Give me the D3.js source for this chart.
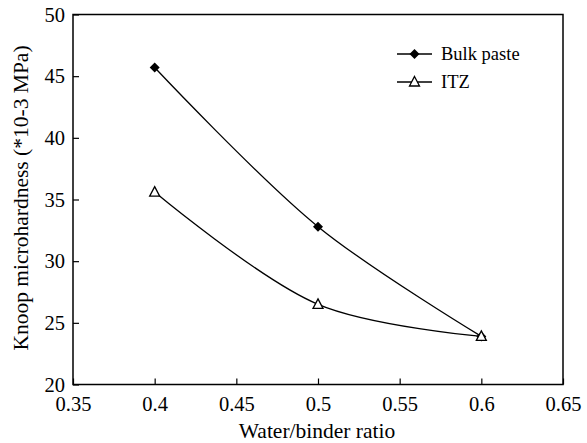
<!DOCTYPE html>
<html>
<head>
<meta charset="utf-8">
<script src="https://cdn.jsdelivr.net/npm/d3@7"></script>
<style>
  body { margin: 0; background: #fff; }
  svg { display: block; }
  svg text { font-family: "Liberation Serif", "Times New Roman", serif !important; fill: #000; }
</style>
</head>
<body>
<svg id="chart" width="587" height="443"></svg>
<script>
const ratios = [0.4, 0.5, 0.6];
const bulkPaste = [45.7, 32.8, 23.9];
const itz = [35.6, 26.5, 23.9];
const xTicks = [0.35, 0.4, 0.45, 0.5, 0.55, 0.6, 0.65];
const yTicks = [20, 25, 30, 35, 40, 45, 50];
const seriesNames = ["Bulk paste", "ITZ"];

const FONT = "'Liberation Serif', 'Times New Roman', serif";
const svg = d3.select("#chart");
const mLeft = 73, mRight = 563, mTop = 14.5, mBottom = 384.5;

const x = d3.scaleLinear().domain([0.35, 0.65]).range([mLeft, mRight]);
const y = d3.scaleLinear().domain([20, 50]).range([mBottom, mTop]);

// frame
svg.append("rect").attr("x", mLeft).attr("y", mTop)
  .attr("width", mRight - mLeft).attr("height", mBottom - mTop)
  .attr("fill", "none").attr("stroke", "#000").attr("stroke-width", 1.5);

// x axis ticks (inward)
const xAxis = d3.axisBottom(x).tickValues(xTicks).tickSizeInner(-6).tickSizeOuter(0)
  .tickPadding(12).tickFormat(d => String(d));
const gx = svg.append("g").attr("transform", `translate(0,${mBottom})`).call(xAxis)
  .attr("font-family", null).attr("font-size", null);
gx.select(".domain").remove();
gx.selectAll("line").attr("stroke", "#000").attr("stroke-width", 1.2);
gx.selectAll("text").style("font-family", FONT).style("font-size", "20.5px");

const yAxis = d3.axisLeft(y).tickValues(yTicks).tickSizeInner(-6).tickSizeOuter(0)
  .tickPadding(8).tickFormat(d => String(d));
const gy = svg.append("g").attr("transform", `translate(${mLeft},0)`).call(yAxis)
  .attr("font-family", null).attr("font-size", null);
gy.select(".domain").remove();
gy.selectAll("line").attr("stroke", "#000").attr("stroke-width", 1.2);
gy.selectAll("text").style("font-family", FONT).style("font-size", "20.5px");

// axis titles
svg.append("text").attr("x", (mLeft + mRight) / 2 - 1).attr("y", 438)
  .attr("text-anchor", "middle").style("font-family", FONT).style("font-size", "21.5px")
  .text("Water/binder ratio");
svg.append("text").attr("transform", `translate(28,198) rotate(-90)`)
  .attr("text-anchor", "middle").style("font-family", FONT).style("font-size", "21.5px")
  .text("Knoop microhardness (*10-3 MPa)");

const line = d3.line().x(d => x(d[0])).y(d => y(d[1])).curve(d3.curveCatmullRom.alpha(0.5));

const bulkData = ratios.map((r, i) => [r, bulkPaste[i]]);
const itzData = ratios.map((r, i) => [r, itz[i]]);

svg.append("path").datum(bulkData).attr("d", line)
  .attr("fill", "none").attr("stroke", "#000").attr("stroke-width", 1.3);
svg.append("path").datum(itzData).attr("d", line)
  .attr("fill", "none").attr("stroke", "#000").attr("stroke-width", 1.3);

function drawDiamond(g, cx, cy) {
  g.append("path").attr("d", "M0,-5L5,0L0,5L-5,0Z")
    .attr("transform", `translate(${cx},${cy})`).attr("fill", "#000");
}
function drawTriangle(g, cx, cy) {
  g.append("path").attr("d", "M0,-5.5L5,4L-5,4Z")
    .attr("transform", `translate(${cx},${cy})`).attr("fill", "#fff")
    .attr("stroke", "#000").attr("stroke-width", 1.3);
}
bulkData.forEach(d => drawDiamond(svg, x(d[0]), y(d[1])));
itzData.forEach(d => drawTriangle(svg, x(d[0]), y(d[1])));

// legend
const lg = svg.append("g");
[[54, drawDiamond], [82, drawTriangle]].forEach(([ly, fn], i) => {
  lg.append("line").attr("x1", 397).attr("x2", 432).attr("y1", ly).attr("y2", ly)
    .attr("stroke", "#000").attr("stroke-width", 1.3);
  fn(lg, 414.5, ly);
  lg.append("text").attr("x", 441).attr("y", ly + 5.5).style("font-family", FONT)
    .style("font-size", "18.5px").text(seriesNames[i]);
});
</script>
</body>
</html>
